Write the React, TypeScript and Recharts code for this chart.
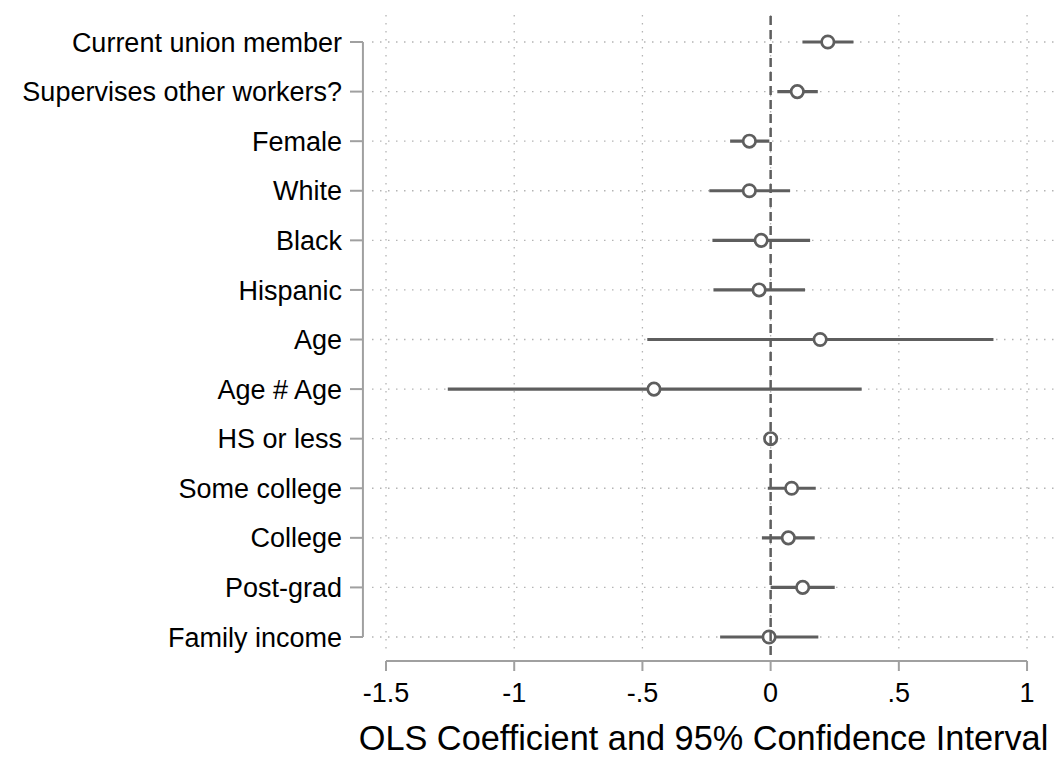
import React from 'react';
import { ScatterChart, Scatter, XAxis, YAxis, CartesianGrid, ReferenceLine, ErrorBar } from 'recharts';

const LABELS = [
  'Current union member',
  'Supervises other workers?',
  'Female',
  'White',
  'Black',
  'Hispanic',
  'Age',
  'Age # Age',
  'HS or less',
  'Some college',
  'College',
  'Post-grad',
  'Family income',
];
const COEF = [0.223, 0.104, -0.083, -0.083, -0.037, -0.045, 0.193, -0.455, 0, 0.082, 0.069, 0.125, -0.006];
const CI_LOW = [0.124, 0.026, -0.158, -0.239, -0.227, -0.223, -0.481, -1.259, 0, -0.011, -0.034, 0.0, -0.197];
const CI_HIGH = [0.323, 0.184, -0.005, 0.076, 0.154, 0.134, 0.869, 0.355, 0, 0.176, 0.172, 0.25, 0.186];
const X_TICKS = [-1.5, -1, -0.5, 0, 0.5, 1];
const X_TICK_LABELS = ['-1.5', '-1', '-.5', '0', '.5', '1'];

const ROWS = LABELS.map((_, i) => i);
const data = LABELS.map((name, i) => ({
  name,
  row: i,
  coef: COEF[i],
  err: [COEF[i] - CI_LOW[i], CI_HIGH[i] - COEF[i]],
}));

const FONT = '"Liberation Sans", Arial, Helvetica, sans-serif';
const AXIS_GRAY = '#a0a0a0';
const MARK_GRAY = '#5e5e5e';

// layout helpers (data-space offsets for the Stata-style detached axis lines)
const X_AXIS_ROW = 12.484;
const Y_AXIS_X = -1.59;

const XTick = (props: any) => {
  const { x, y, payload } = props;
  const idx = X_TICKS.indexOf(payload.value);
  return (
    <g>
      <line x1={x} x2={x} y1={y + 6} y2={y + 16} stroke={AXIS_GRAY} strokeWidth={2} />
      <text x={x} y={y + 47} textAnchor="middle" fontSize={27} fontFamily={FONT} fill="#000">
        {idx >= 0 ? X_TICK_LABELS[idx] : payload.value}
      </text>
    </g>
  );
};

const YTick = (props: any) => {
  const { x, y, payload } = props;
  return (
    <g>
      <line x1={x - 22} x2={x - 9} y1={y} y2={y} stroke={AXIS_GRAY} strokeWidth={2} />
      <text x={x - 30} y={y} dy="0.355em" textAnchor="end" fontSize={27} fontFamily={FONT} fill="#000">
        {LABELS[payload.value]}
      </text>
    </g>
  );
};

const Marker = (props: any) => (
  <circle cx={props.cx} cy={props.cy} r={6.2} fill="#fff" stroke={MARK_GRAY} strokeWidth={2.7} />
);

export default function App() {
  return (
    <div style={{ position: 'absolute', left: 0, top: 0, background: '#fff' }}>
      <ScatterChart width={1060} height={758} margin={{ top: 15, right: 5, bottom: 0, left: 0 }} style={{ fontFamily: FONT }}>
        <CartesianGrid stroke="#b4b4b4" strokeWidth={1.3} strokeDasharray="1.5 6.5" syncWithTicks />
        <XAxis
          type="number"
          dataKey="coef"
          domain={[-1.5546, 1.109]}
          ticks={X_TICKS}
          interval={0}
          allowDataOverflow
          height={103}
          axisLine={false}
          tickLine={false}
          tickSize={0}
          tickMargin={0}
          tick={<XTick />}
          label={{
            value: 'OLS Coefficient and 95% Confidence Interval',
            position: 'insideBottom',
            offset: 8,
            dx: -10,
            fontSize: 34.3,
            fill: '#000',
            fontFamily: FONT,
          }}
        />
        <YAxis
          type="number"
          dataKey="row"
          domain={[-0.545, 12.363]}
          reversed
          ticks={ROWS}
          interval={0}
          allowDataOverflow
          width={372}
          axisLine={false}
          tickLine={false}
          tickSize={0}
          tickMargin={0}
          tick={<YTick />}
        />
        <ReferenceLine
          segment={[{ x: -1.5, y: X_AXIS_ROW }, { x: 1, y: X_AXIS_ROW }]}
          stroke={AXIS_GRAY}
          strokeWidth={2}
          ifOverflow="visible"
        />
        <ReferenceLine
          segment={[{ x: Y_AXIS_X, y: 0 }, { x: Y_AXIS_X, y: 12 }]}
          stroke={AXIS_GRAY}
          strokeWidth={2}
          ifOverflow="visible"
        />
        <Scatter data={data} isAnimationActive={false} shape={<Marker />}>
          <ErrorBar dataKey="err" direction="x" width={0} stroke={MARK_GRAY} strokeWidth={3.2} />
        </Scatter>
        <ReferenceLine x={0} stroke={MARK_GRAY} strokeWidth={2.5} strokeDasharray="9 5" zIndex={1000} />
      </ScatterChart>
    </div>
  );
}
